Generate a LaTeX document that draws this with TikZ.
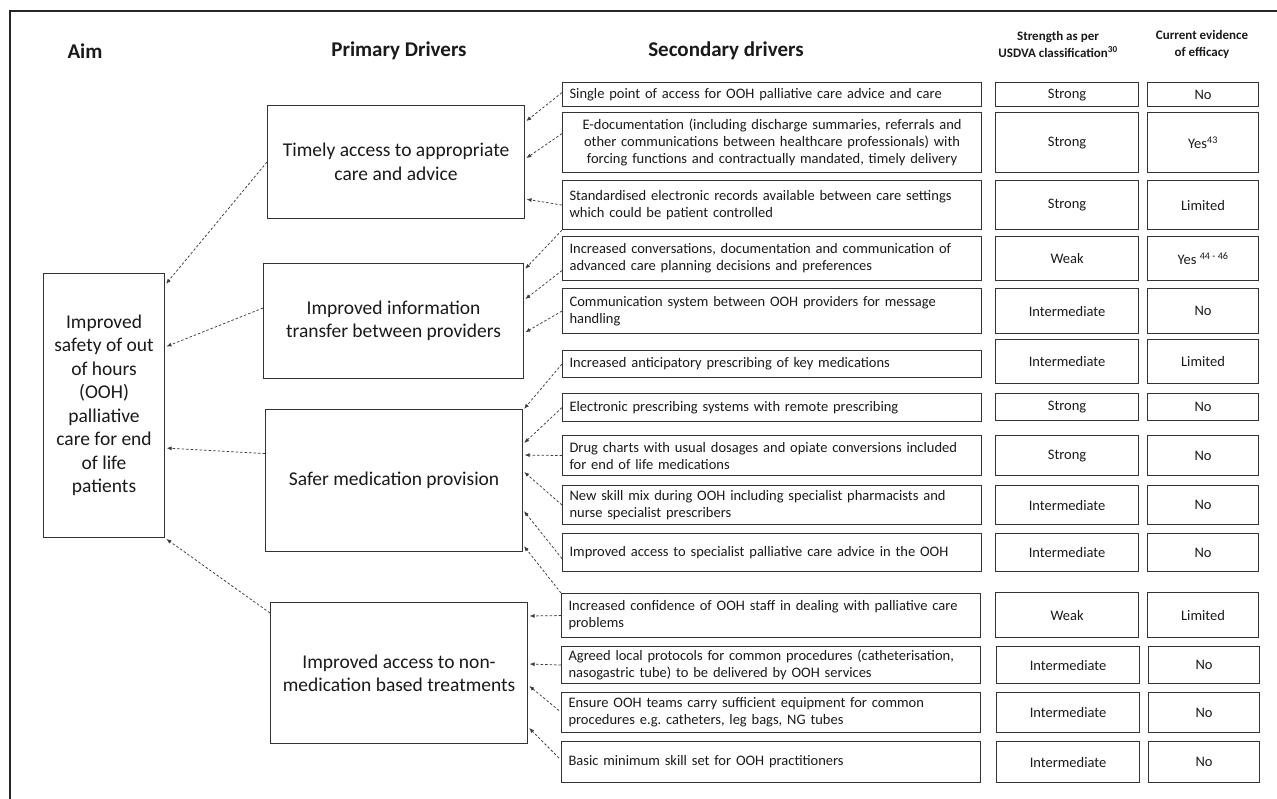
\documentclass[tikz,border=0pt]{standalone}
\usepackage{fontspec}
\setmainfont{Carlito}
\usetikzlibrary{arrows.meta}
\definecolor{boxc}{HTML}{333333}
\definecolor{linec}{HTML}{3C3C3C}
\definecolor{txt}{HTML}{1A1A1A}
\frenchspacing
\begin{document}
\begin{tikzpicture}[x=1pt,y=-1pt,
  every node/.style={text=txt},
  box/.style={draw=boxc, line width=1.1pt},
  sbox/.style={box, anchor=north west, text width=405pt, inner xsep=7pt, inner ysep=0pt, align=left, font=\fontsize{14.5}{17}\selectfont},
  cbox/.style={sbox, align=center},
  tbox/.style={box, anchor=north west, minimum width=143pt, inner sep=0pt, align=center, font=\fontsize{14.5}{17}\selectfont},
  ebox/.style={tbox, minimum width=111pt},
  pbox/.style={box, anchor=north west, inner sep=0pt, align=center, font=\fontsize{19.5}{23.5}\selectfont},
  head/.style={font={\fontsize{21}{25}\selectfont\bfseries}},
  thead/.style={align=center, font={\fontsize{13}{17}\selectfont\bfseries}},
  conn/.style={draw=linec, line width=0.75pt, dash pattern=on 2.5pt off 2pt, -{Latex[length=5pt,width=4pt]}, shorten >=1.5pt}
]
\useasboundingbox (0,0) rectangle (1277,799);
\fill[white] (0,0) rectangle (1277,799);
% frame
\draw[line width=1.3pt, draw=black!85] (10,799) -- (10,11) -- (1277,11);

% headers
\node[head] (hAim) at (85,51) {Aim};
\node[head] (hPrim) at (399,51) {Primary Drivers};
\node[head] (hSec) at (726,51) {Secondary drivers};
\node[thead] (hStr) at (1058,44) {Strength as per\\USDVA classification\textsuperscript{30}};
\node[thead] (hEv) at (1202,44) {Current evidence\\of efficacy};

% aim
\node[pbox, minimum width=121pt, minimum height=264pt] (aim) at (43,273) {Improved\\safety of out\\of hours\\(OOH)\\palliative\\care for end\\of life\\patients};

% primary drivers
\node[pbox, minimum width=257pt, minimum height=113pt] (p1) at (267,105) {Timely access to appropriate\\care and advice};
\node[pbox, minimum width=260pt, minimum height=115pt] (p2) at (263,263) {Improved information\\transfer between providers};
\node[pbox, minimum width=257pt, minimum height=142pt] (p3) at (265,409) {Safer medication provision};
\node[pbox, minimum width=257pt, minimum height=141pt] (p4) at (270,602) {Improved access to non-\\medication based treatments};

% secondary drivers and table
\node[sbox, minimum height=24pt] (s1) at (562,82) {Single point of access for OOH palliative care advice and care};
\node[tbox, minimum height=24pt] (g1) at (995,82) {Strong};
\node[ebox, minimum height=24pt] (e1) at (1147,82) {No};

\node[cbox, minimum height=60pt] (s2) at (562,112) {E-documentation (including discharge summaries, referrals and\\other communications between healthcare professionals) with\\forcing functions and contractually mandated, timely delivery};
\node[tbox, minimum height=60pt] (g2) at (995,112) {Strong};
\node[ebox, minimum height=60pt] (e2) at (1147,112) {Yes\textsuperscript{43}};

\node[sbox, minimum height=49pt] (s3) at (562,180) {Standardised electronic records available between care settings\\which could be patient controlled};
\node[tbox, minimum height=49pt] (g3) at (995,180) {Strong};
\node[ebox, minimum height=49pt] (e3) at (1147,180) {Limited};

\node[sbox, minimum height=44pt] (s4) at (562,236) {Increased conversations, documentation and communication of\\advanced care planning decisions and preferences};
\node[tbox, minimum height=44pt] (g4) at (995,236) {Weak};
\node[ebox, minimum height=44pt] (e4) at (1147,236) {Yes \textsuperscript{44 - 46}};

\node[sbox, minimum height=45pt] (s5) at (562,288) {Communication system between OOH providers for message\\handling};
\node[tbox, minimum height=45pt] (g5) at (995,288) {Intermediate};
\node[ebox, minimum height=45pt] (e5) at (1147,288) {No};

\node[sbox, minimum height=27pt] (s6) at (562,350) {Increased anticipatory prescribing of key medications};
\node[tbox, minimum height=44pt] (g6) at (995,339) {Intermediate};
\node[ebox, minimum height=44pt] (e6) at (1147,339) {Limited};

\node[sbox, minimum height=28pt] (s7) at (562,393) {Electronic prescribing systems with remote prescribing};
\node[tbox, minimum height=27pt] (g7) at (995,393) {Strong};
\node[ebox, minimum height=27pt] (e7) at (1147,393) {No};

\node[sbox, minimum height=40pt] (s8) at (562,435) {Drug charts with usual dosages and opiate conversions included\\for end of life medications};
\node[tbox, minimum height=40pt] (g8) at (995,435) {Strong};
\node[ebox, minimum height=40pt] (e8) at (1147,435) {No};

\node[sbox, minimum height=39pt] (s9) at (562,485) {New skill mix during OOH including specialist pharmacists and\\nurse specialist prescribers};
\node[tbox, minimum height=39pt] (g9) at (995,485) {Intermediate};
\node[ebox, minimum height=39pt] (e9) at (1147,485) {No};

\node[sbox, minimum height=38pt] (s10) at (562,533) {Improved access to specialist palliative care advice in the OOH};
\node[tbox, minimum height=38pt] (g10) at (995,533) {Intermediate};
\node[ebox, minimum height=38pt] (e10) at (1147,533) {No};

\node[sbox, minimum height=44pt] (s11) at (561,593) {Increased confidence of OOH staff in dealing with palliative care\\problems};
\node[tbox, minimum height=45pt] (g11) at (995,592) {Weak};
\node[ebox, minimum height=45pt] (e11) at (1147,592) {Limited};

\node[sbox, minimum height=37pt] (s12) at (561,646) {Agreed local protocols for common procedures (catheterisation,\\nasogastric tube) to be delivered by OOH services};
\node[tbox, minimum height=37pt] (g12) at (996,646) {Intermediate};
\node[ebox, minimum height=37pt] (e12) at (1148,646) {No};

\node[sbox, minimum height=40pt] (s13) at (561,692) {Ensure OOH teams carry sufficient equipment for common\\procedures e.g.\ catheters, leg bags, NG tubes};
\node[tbox, minimum height=40pt] (g13) at (996,692) {Intermediate};
\node[ebox, minimum height=40pt] (e13) at (1148,692) {No};

\node[sbox, minimum height=41pt] (s14) at (561,741) {Basic minimum skill set for OOH practitioners};
\node[tbox, minimum height=41pt] (g14) at (996,741) {Intermediate};
\node[ebox, minimum height=41pt] (e14) at (1148,741) {No};

% connectors: secondary -> primary
\draw[conn] ([yshift=2pt]s1.west) -- ([yshift=-17pt]p1.north east);
\draw[conn] ([yshift=9pt]s2.west) -- ([yshift=-54pt]p1.north east);
\draw[conn] (s3.west) -- ([yshift=-94pt]p1.north east);
\draw[conn] (s3.south west) -- ([yshift=-7pt]p2.north east);
\draw[conn] ([yshift=-12pt]s4.west) -- ([yshift=-37pt]p2.north east);
\draw[conn] (s5.west) -- ([yshift=-70pt]p2.north east);
\draw[conn] (s6.west) -- ([yshift=-1pt]p3.north east);
\draw[conn] (s7.west) -- ([yshift=-35pt]p3.north east);
\draw[conn] (s8.west) -- ([yshift=-46pt]p3.north east);
\draw[conn] (s9.west) -- ([yshift=-62pt]p3.north east);
\draw[conn] ([yshift=-6pt]s10.west) -- ([yshift=-101pt]p3.north east);
\draw[conn] (s11.north west) -- ([yshift=-136pt]p3.north east);
\draw[conn] (s11.west) -- ([yshift=-14pt]p4.north east);
\draw[conn] (s12.west) -- ([yshift=-62pt]p4.north east);
\draw[conn] ([xshift=-2pt,yshift=2pt]s13.west) -- ([yshift=-83pt]p4.north east);
\draw[conn] ([xshift=-2pt,yshift=4pt]s14.west) -- ([yshift=-125pt]p4.north east);

% connectors: primary -> aim
\draw[conn] (p1.west) -- ([yshift=-12pt]aim.north east);
\draw[conn] ([yshift=13pt]p2.west) -- ([yshift=-74pt]aim.north east);
\draw[conn] ([yshift=27pt]p3.west) -- ([yshift=-175pt]aim.north east);
\draw[conn] ([yshift=-11pt]p4.north west) -- (aim.south east);
\end{tikzpicture}
\end{document}
